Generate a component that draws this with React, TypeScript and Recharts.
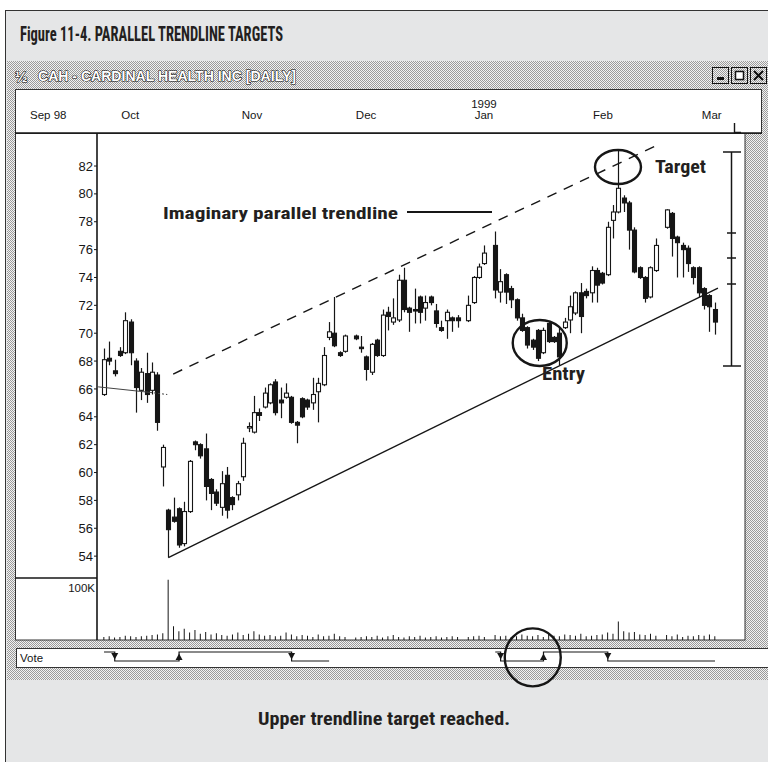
import React from "react";
import {
  Bar,
  ComposedChart,
  Line,
  ReferenceDot,
  ReferenceLine,
  XAxis,
  YAxis,
} from "recharts";

// daily OHLC, one slot per trading day (null = no bar drawn)
const opens = [
  65.6, 68.2, 67.3, 68.7, 68.6, 70.8, 68.0, 65.9, 67.1, 65.9, 67.0, 60.4, 57.3, 56.8, 57.4, 54.9, 57.2, 62.2, 62.0, 61.7,
  59.5, 58.6, 57.5, 59.8, 58.2, 58.4, 59.7, 63.2, 62.9, 64.3, 64.7, 65.0, 66.5, 65.2, 65.4, 65.4, 63.6, 65.3, 65.2, 65.0,
  65.8, 66.3, 69.7, 70.0, 68.6, 68.7, null, 69.8, 69.0, 68.3, 67.2, 69.5, 68.4, 71.5, 70.8, 70.95, 73.8, 71.8, 71.7, 72.6,
  71.8, 72.6, 71.6, 70.4, 70.9, 71.1, 71.1, null, 70.9, 72.2, 74.0, 75.0, null, 76.3, 72.95, 74.2, 73.2, 72.4, 71.1, 70.4,
  69.5, 70.2, 68.6, 70.7, 69.7, 70.0, 70.4, 70.95, 71.45, 72.9, 73.0, 72.9, 74.5, 74.3, 74.2, 78.1, 78.7, 79.7, 79.35, 77.4,
  74.7, 74.0, 72.6, 74.5, null, 77.6, 78.6, 76.9, 76.3, 76.1, 74.7, 74.7, 73.2, 72.7, 71.7,
];
const highs = [
  68.9, 69.4, 68.1, 69.0, 71.5, 71.0, 68.2, 67.5, 68.6, 67.9, 67.2, 62.0, 57.4, 58.2, 57.5, 57.9, 60.9, 62.3, 62.1, 62.8,
  59.6, 58.8, 60.1, 60.4, 58.3, 59.4, 62.5, 63.6, 65.5, 64.6, 66.1, 66.4, 66.7, 66.1, 66.4, 65.5, 63.7, 65.4, 65.3, 66.8,
  66.8, 69.0, 70.8, 72.6, 68.7, 69.9, null, 69.9, 69.8, 68.4, 69.3, 69.6, 71.7, 71.9, 72.5, 74.2, 74.7, 71.9, 73.2, 72.7,
  72.7, 72.7, 72.1, 70.9, 71.7, 71.2, 71.3, null, 72.7, 74.1, 75.0, 76.3, null, 77.3, 74.6, 74.3, 73.4, 72.5, 71.4, 70.5,
  69.6, 70.3, 70.4, 70.8, 69.8, 70.4, 71.1, 72.7, 73.0, 73.6, 73.2, 74.8, 74.7, 74.4, 78.0, 79.2, 83.1, 79.9, 79.5, 77.6,
  74.8, 74.1, 74.8, 76.8, null, 78.9, 78.7, 77.0, 76.5, 76.3, 74.8, 74.8, 73.3, 72.8, 72.2,
];
const lows = [
  65.5, 67.7, 66.9, 68.3, 68.5, 67.7, 64.3, 65.2, 65.0, 65.6, 63.0, 59.0, 53.9, 56.4, 54.6, 54.7, 57.1, 61.6, 61.0, 58.0,
  57.3, 57.6, 56.9, 56.7, 57.3, 58.0, 59.4, 62.9, 62.8, 63.7, 64.6, 64.9, 64.1, 63.9, 65.3, 63.5, 62.1, 63.9, 64.5, 64.5,
  63.6, 66.2, 69.5, 69.0, 68.3, 68.6, null, 69.5, 68.6, 66.6, 67.0, 68.3, 68.3, 70.2, 70.6, 70.8, 71.5, 70.1, 70.7, 70.7,
  70.9, 72.0, 70.4, 70.1, 69.6, 70.1, 70.4, null, 70.8, 72.1, 73.9, 74.9, null, 72.5, 72.2, 72.1, 71.8, 70.9, 70.1, 68.9,
  68.8, 68.0, 68.5, 69.3, 69.3, 67.7, 70.3, 70.0, 71.3, 70.0, 72.5, 72.2, 72.2, 73.5, 74.1, 76.8, 78.6, 78.7, 76.0, 74.3,
  73.9, 72.2, 72.5, 74.4, null, 77.5, 75.5, 74.0, 74.0, 74.4, 73.5, 72.6, 71.7, 70.1, 69.9,
];
const closes = [
  68.1, 68.0, 67.1, 68.4, 70.9, 68.6, 66.1, 67.2, 65.6, 67.2, 63.6, 61.8, 55.9, 56.5, 54.8, 57.2, 60.8, 62.0, 61.2, 59.0,
  58.5, 57.8, 59.2, 57.3, 57.7, 59.2, 62.1, 63.3, 64.3, 64.1, 65.7, 66.3, 64.3, 65.0, 65.7, 63.6, 63.4, 64.0, 64.7, 65.6,
  66.4, 68.4, 70.1, 69.1, 68.4, 69.8, null, 69.6, 68.9, 67.4, 69.2, 68.4, 71.3, 71.2, 71.1, 73.8, 71.7, 71.5, 71.6, 71.5,
  72.2, 72.2, 70.7, 70.2, 71.5, 70.9, 70.9, null, 72.0, 74.0, 74.75, 75.75, null, 73.1, 73.7, 72.95, 72.4, 71.1, 70.2, 69.15,
  69.0, 68.2, 70.2, 69.4, 69.4, 68.3, 70.8, 71.9, 72.9, 71.2, 72.7, 74.5, 73.45, 73.6, 77.6, 78.7, 80.4, 79.35, 77.4, 74.4,
  74.0, 72.5, 74.7, 76.3, null, 78.85, 76.8, 76.5, 76.0, 75.0, 74.0, 72.9, 72.0, 71.9, 70.8,
];
// volume in thousands of shares
const volumes = [
  5, 6, 4, 5, 7, 6, 5, 6, 7, 8, 9, 11, 97, 22, 14, 18, 12, 16, 10, 13,
  9, 11, 8, 7, 9, 12, 8, 10, 14, 9, 7, 8, 6, 7, 12, 9, 6, 8, 7, 5,
  9, 6, 7, 10, 6, 5, null, 4, 5, 6, 5, 7, 4, 6, 8, 5, 4, 6, 5, 7,
  4, 5, 6, 4, 5, 6, 5, null, 5, 6, 7, 5, null, 8, 6, 7, 5, 6, 9, 7,
  6, 8, 5, 10, 7, 6, 9, 8, 7, 10, 6, 7, 8, 9, 12, 10, 30, 14, 12, 13,
  9, 8, 10, 7, null, 8, 6, 9, 5, 7, 6, 8, 7, 9, 6,
];
// system vote: 1 = long, 0 = short
const votes = [
  1, 1, 0, 0, 0, 0, 0, 0, 0, 0, 0, 0, 0, 0, 1, 1, 1, 1, 1, 1,
  1, 1, 1, 1, 1, 1, 1, 1, 1, 1, 1, 1, 1, 1, 1, 0, 0, 0, 0, 0,
  0, 0, 0, null, null, null, null, null, null, null, null, null, null, null, null, null, null, null, null, null,
  null, null, null, null, null, null, null, null, null, null, null, null, null, 1, 0, 0, 0, 0, 0, 0,
  0, 0, 1, 1, 1, 1, 1, 1, 1, 1, 1, 1, 1, 1, 0, 0, 0, 0, 0, 0,
  0, 0, 0, 0, 0, 0, 0, 0, 0, 0, 0, 0, 0, 0, 0,
];

const monthTicks = [-10.4, 4.9, 27.6, 48.9, 70.9, 93.1, 113.4];
const monthLabels = ["Sep 98", "Oct", "Nov", "Dec", "Jan", "Feb", "Mar"];
const yearLabels = ["", "", "", "", "1999", "", ""];
const priceTicks = [54, 56, 58, 60, 62, 64, 66, 68, 70, 72, 74, 76, 78, 80, 82];
const volumeTicks = [100];

const candles = opens.map((o, i) => ({ i, o, h: highs[i], l: lows[i], c: closes[i] }));
const volumeRows = volumes.map((v, i) => ({ i, v }));
const voteRows = votes.map((s, i) => ({ i, s }));

const W = 768;
const H = 762;
const X_DOMAIN = [-1.31, 119.6];
const INK = "#161616";
const CONDENSED = "'Liberation Sans Narrow', 'Roboto Condensed', 'Liberation Sans', Arial, sans-serif";
const UI_FONT = "'Liberation Sans', Arial, sans-serif";

function Candle(props: any) {
  const { x, y, width, height, payload } = props;
  if (payload == null || payload.o == null || !isFinite(height)) return null;
  const span = payload.h - payload.l;
  const yOf = (p: number) => y + (span ? ((payload.h - p) / span) * height : 0);
  const cx = Math.round(x + width / 2) + 0.5;
  const up = payload.c > payload.o;
  const top = yOf(Math.max(payload.o, payload.c));
  const bot = yOf(Math.min(payload.o, payload.c));
  return (
    <g>
      <line x1={cx} x2={cx} y1={y} y2={y + height} stroke={INK} strokeWidth={1.2} />
      <rect
        x={cx - 2}
        y={top}
        width={4}
        height={Math.max(bot - top, 1.5)}
        fill={up ? "#fff" : INK}
        stroke={INK}
        strokeWidth={1.1}
      />
    </g>
  );
}

function MonthTick(props: any) {
  const { x, y, payload } = props;
  const k = monthTicks.indexOf(payload.value);
  return (
    <g>
      {yearLabels[k] ? (
        <text x={x} y={y - 11} textAnchor="middle" fontSize={11.5} fontFamily={UI_FONT} fill={INK}>
          {yearLabels[k]}
        </text>
      ) : null}
      <text x={x} y={y} textAnchor="middle" fontSize={11.5} fontFamily={UI_FONT} fill={INK}>
        {monthLabels[k]}
      </text>
    </g>
  );
}

function VolumeTick(props: any) {
  const { x, y, payload } = props;
  return (
    <text x={x} y={y + 14} textAnchor="end" fontSize={11.5} fontFamily={UI_FONT} fill={INK}>
      {payload.value}K
    </text>
  );
}

function VoteDot(props: any) {
  const { cx, cy, index } = props;
  const prev = index > 0 ? votes[index - 1] : null;
  const cur = votes[index];
  if (prev == null || cur == null || prev === cur || cy == null) return <g key={index} />;
  const d =
    cur === 0
      ? `M${cx - 3.5},${cy - 8} L${cx + 3.5},${cy - 8} L${cx},${cy - 1.5} Z`
      : `M${cx - 3.5},${cy + 8} L${cx + 3.5},${cy + 8} L${cx},${cy + 1.5} Z`;
  return <path key={index} d={d} fill={INK} />;
}

const ellipse = (rx: number, ry: number) => (p: any) => (
  <ellipse cx={p.cx} cy={p.cy} rx={rx} ry={ry} fill="none" stroke={INK} strokeWidth={2.4} />
);

function Frame() {
  return (
    <svg width={W} height={H} style={{ position: "absolute", left: 0, top: 0 }}>
      <defs>
        <pattern id="dither" width="2" height="2" patternUnits="userSpaceOnUse">
          <rect width="2" height="2" fill="#f2f2f2" />
          <rect width="1" height="1" fill="#9a9a9a" />
          <rect x="1" y="1" width="1" height="1" fill="#9a9a9a" />
        </pattern>
      </defs>
      <rect width={W} height={H} fill="#fff" />
      <rect x={5.5} y={10.5} width={780} height={760} fill="#e5e6e7" stroke="#333" strokeWidth={1} />
      <text x={20} y={41} fontSize={20} fontWeight={700} fontFamily={CONDENSED} fill="#231f20" textLength={263} lengthAdjust="spacingAndGlyphs">
        Figure 11-4. PARALLEL TRENDLINE TARGETS
      </text>
      {/* program window */}
      <rect x={7} y={61} width={761} height={619} fill="url(#dither)" />
      <text x={15} y={82} fontSize={15} fontWeight={700} fontFamily={UI_FONT} fill="#fff" stroke="#000" strokeWidth={1} paintOrder="stroke">
        ½
      </text>
      <text x={38} y={81} fontSize={15} fontWeight={700} fontFamily={UI_FONT} fill="#fff" stroke="#000" strokeWidth={1.1} paintOrder="stroke" textLength={258} lengthAdjust="spacingAndGlyphs">
        CAH - CARDINAL HEALTH INC [DAILY]
      </text>
      {[712, 731, 750].map((bx, k) => (
        <g key={bx}>
          <rect x={bx + 0.5} y={67.5} width={16} height={16} fill="url(#dither)" stroke="#111" />
          {k === 0 && <rect x={bx + 5} y={77} width={7} height={3} fill="#111" />}
          {k === 1 && <rect x={bx + 4.5} y={71.5} width={8} height={8} fill="#fff" stroke="#111" strokeWidth={1.5} />}
          {k === 2 && <path d={`M${bx + 4},${71} L${bx + 13},${80} M${bx + 13},${71} L${bx + 4},${80}`} stroke="#111" strokeWidth={2.2} />}
        </g>
      ))}
      {/* chart panes */}
      <rect x={15.5} y={89.5} width={746} height={44} fill="#fff" stroke="#333" />
      <rect x={15.5} y={133.5} width={729.5} height={506.5} fill="#fff" stroke="#333" />
      <line x1={15} x2={762} y1={133} y2={133} stroke={INK} strokeWidth={1.6} />
      <line x1={15} x2={97} y1={578} y2={578} stroke={INK} strokeWidth={1.4} />
      <path d="M734.5,123 V132.5 H741" fill="none" stroke={INK} strokeWidth={1.4} />
      {/* vote pane */}
      <rect x={16.5} y={648.5} width={760} height={19} fill="#fff" stroke="#333" />
      <text x={20} y={662} fontSize={11.5} fontFamily={UI_FONT} fill={INK}>
        Vote
      </text>
      {/* caption */}
      <text x={384} y={725} textAnchor="middle" fontSize={18} fontWeight={700} fontFamily={CONDENSED} fill="#231f20" textLength={252} lengthAdjust="spacingAndGlyphs">
        Upper trendline target reached.
      </text>
    </svg>
  );
}

function Notes() {
  return (
    <svg width={W} height={H} style={{ position: "absolute", left: 0, top: 0, pointerEvents: "none" }}>
      <text x={163} y={219} fontSize={17} fontWeight={700} fontFamily={CONDENSED} fill="#231f20" textLength={235} lengthAdjust="spacingAndGlyphs">
        Imaginary parallel trendline
      </text>
      <line x1={407} x2={492} y1={212} y2={212} stroke={INK} strokeWidth={2.2} />
      <text x={655} y={173} fontSize={18} fontWeight={700} fontFamily={CONDENSED} fill="#231f20" textLength={51} lengthAdjust="spacingAndGlyphs">
        Target
      </text>
      <text x={542} y={380} fontSize={18} fontWeight={700} fontFamily={CONDENSED} fill="#231f20" textLength={43} lengthAdjust="spacingAndGlyphs">
        Entry
      </text>
      {/* software scale bracket on the right */}
      <g stroke={INK} strokeWidth={1.5}>
        <line x1={731.5} x2={731.5} y1={152} y2={366} />
        <line x1={723} x2={741} y1={152} y2={152} />
        <line x1={723} x2={741} y1={366} y2={366} />
        <line x1={727} x2={736} y1={233} y2={233} />
        <line x1={727} x2={736} y1={258} y2={258} />
        <line x1={727} x2={736} y1={284} y2={284} />
      </g>
    </svg>
  );
}

export default function App() {
  return (
    <div style={{ position: "relative", width: W, height: H, overflow: "hidden" }}>
      <style>{"body{margin:0}"}</style>
      <Frame />
      <div style={{ position: "absolute", left: 0, top: 0 }}>
        <ComposedChart width={W} height={H} data={candles} margin={{ top: 93, right: 23, bottom: 184, left: 57 }}>
          <XAxis
            dataKey="i"
            type="number"
            domain={X_DOMAIN}
            allowDataOverflow
            orientation="top"
            ticks={monthTicks}
            interval={0}
            tick={<MonthTick />}
            tickSize={0}
            tickMargin={14}
            axisLine={false}
            tickLine={false}
            height={40}
          />
          <YAxis
            type="number"
            domain={[52.43, 84.37]}
            allowDataOverflow
            ticks={priceTicks}
            interval={0}
            width={40}
            tickSize={3}
            tickMargin={1}
            axisLine={{ stroke: INK, strokeWidth: 1.6 }}
            tickLine={{ stroke: INK }}
            tick={{ fontSize: 13, fill: INK, fontFamily: UI_FONT }}
          />
          <ReferenceLine segment={[{ x: -1.1, y: 66.15 }, { x: 8.6, y: 65.75 }]} stroke="#444" strokeWidth={1} ifOverflow="visible" />
          <ReferenceLine segment={[{ x: 8.6, y: 65.75 }, { x: 11.8, y: 65.6 }]} stroke="#444" strokeWidth={1} strokeDasharray="2 2" ifOverflow="visible" />
          <ReferenceLine segment={[{ x: 12, y: 53.9 }, { x: 114.55, y: 73.24 }]} stroke={INK} strokeWidth={1.4} ifOverflow="visible" />
          <ReferenceLine segment={[{ x: 12.9, y: 67.07 }, { x: 103.7, y: 83.58 }]} stroke={INK} strokeWidth={1.4} strokeDasharray="10 8" ifOverflow="visible" />
          <Bar
            dataKey={(d: any) => (d.o == null ? null : [d.l, d.h])}
            barSize={5}
            shape={<Candle />}
            isAnimationActive={false}
          />
          <ReferenceDot x={95.9} y={81.93} r={20} shape={ellipse(23, 17)} ifOverflow="visible" />
          <ReferenceDot x={81.3} y={69.3} r={20} shape={ellipse(27, 23)} ifOverflow="visible" />
        </ComposedChart>
      </div>
      <div style={{ position: "absolute", left: 0, top: 0 }}>
        <ComposedChart width={W} height={H} data={volumeRows} margin={{ top: 578, right: 23, bottom: 122, left: 57 }}>
          <XAxis dataKey="i" type="number" domain={X_DOMAIN} allowDataOverflow hide />
          <YAxis
            type="number"
            domain={[0, 100]}
            allowDataOverflow
            ticks={volumeTicks}
            width={40}
            tickSize={0}
            tickMargin={2}
            axisLine={{ stroke: INK, strokeWidth: 1.6 }}
            tickLine={false}
            tick={<VolumeTick />}
          />
          <Bar dataKey="v" barSize={1} fill={INK} isAnimationActive={false} />
        </ComposedChart>
      </div>
      <div style={{ position: "absolute", left: 0, top: 0 }}>
        <ComposedChart width={W} height={H} data={voteRows} margin={{ top: 652, right: 23, bottom: 101, left: 97 }}>
          <XAxis dataKey="i" type="number" domain={X_DOMAIN} allowDataOverflow hide />
          <YAxis type="number" domain={[0, 1]} hide />
          <Line
            type="stepAfter"
            dataKey="s"
            stroke={INK}
            strokeWidth={1.2}
            dot={(p: any) => <VoteDot key={p.index} {...p} />}
            activeDot={false}
            connectNulls={false}
            isAnimationActive={false}
          />
          <ReferenceDot x={80} y={0.4} r={20} shape={ellipse(28, 29)} ifOverflow="visible" />
        </ComposedChart>
      </div>
      <Notes />
    </div>
  );
}
